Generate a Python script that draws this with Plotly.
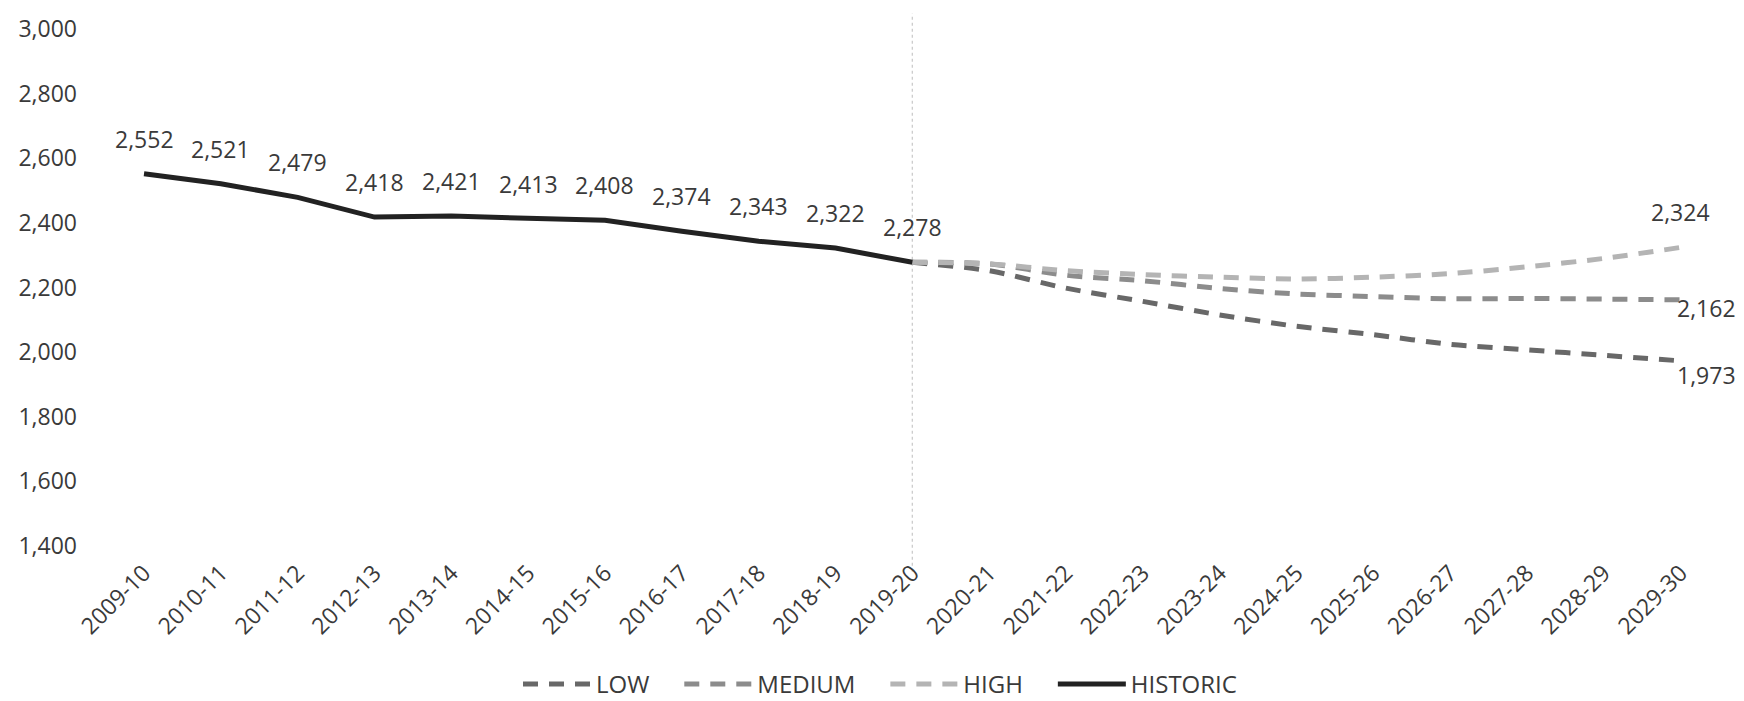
import plotly.graph_objects as go

categories = ["2009-10", "2010-11", "2011-12", "2012-13", "2013-14", "2014-15",
              "2015-16", "2016-17", "2017-18", "2018-19", "2019-20", "2020-21",
              "2021-22", "2022-23", "2023-24", "2024-25", "2025-26", "2026-27",
              "2027-28", "2028-29", "2029-30"]

historic_x = categories[:11]
historic = [2552, 2521, 2479, 2418, 2421, 2413, 2408, 2374, 2343, 2322, 2278]

proj_x = categories[10:]
low = [2278, 2252, 2198, 2157, 2115, 2080, 2054, 2024, 2007, 1990, 1973]
medium = [2278, 2273, 2238, 2221, 2197, 2180, 2172, 2165, 2166, 2164, 2162]
high = [2278, 2273, 2252, 2240, 2232, 2226, 2232, 2243, 2264, 2290, 2324]

y_ticks = [1400, 1600, 1800, 2000, 2200, 2400, 2600, 2800, 3000]

FONT = "Open Sans"
TXT = "#3a3a3a"
SP = "\u00a0" * 4

fig = go.Figure()
dash = "15px,11px"
fig.add_trace(go.Scatter(x=proj_x, y=low, name="LOW" + SP, mode="lines",
                         line=dict(color="#686868", width=5, dash=dash, shape="spline", smoothing=0.8)))
fig.add_trace(go.Scatter(x=proj_x, y=medium, name="MEDIUM" + SP, mode="lines",
                         line=dict(color="#8c8c8c", width=5, dash=dash, shape="spline", smoothing=0.8)))
fig.add_trace(go.Scatter(x=proj_x, y=high, name="HIGH" + SP, mode="lines",
                         line=dict(color="#b4b4b4", width=5, dash=dash, shape="spline", smoothing=0.8)))
fig.add_trace(go.Scatter(x=historic_x, y=historic, name="HISTORIC", mode="lines",
                         line=dict(color="#222222", width=5)))

LBL = dict(family=FONT, size=23, color=TXT)
annotations = []
for c, v in zip(historic_x, historic):
    annotations.append(dict(x=c, y=v, text=f"{v:,}", showarrow=False, yshift=35, font=LBL))
annotations.append(dict(x=proj_x[-1], y=high[-1], text=f"{high[-1]:,}", showarrow=False,
                        yshift=35, font=LBL))
annotations.append(dict(x=proj_x[-1], y=medium[-1], text=f"{medium[-1]:,}", showarrow=False,
                        xanchor="left", xshift=-6, yshift=-8, font=LBL))
annotations.append(dict(x=proj_x[-1], y=low[-1], text=f"{low[-1]:,}", showarrow=False,
                        xanchor="left", xshift=-6, yshift=-14, font=LBL))

fig.update_layout(
    width=1744, height=701,
    margin=dict(l=78, r=33, t=21, b=163),
    paper_bgcolor="white", plot_bgcolor="white",
    font=dict(family=FONT, size=22, color=TXT),
    showlegend=True,
    legend=dict(orientation="h", xref="container", x=0.5, xanchor="center",
                yref="container", y=0.035, yanchor="middle",
                font=dict(family=FONT, size=24, color=TXT),
                itemwidth=68, traceorder="normal"),
    annotations=annotations,
    shapes=[dict(type="line", xref="x", yref="paper", x0="2019-20", x1="2019-20",
                 y0=-0.05, y1=1.03, line=dict(color="#c8c8c8", width=1.2, dash="dot"),
                 layer="below")],
)
fig.update_xaxes(type="category", categoryorder="array", categoryarray=categories,
                 range=[-0.755, 20.5], tickangle=-45, showgrid=False, zeroline=False,
                 showline=False, ticks="", automargin=False, ticklabelstandoff=8,
                 tickfont=dict(family=FONT, size=23, color=TXT))
fig.update_yaxes(range=[1400, 3000], tickvals=y_ticks, tickformat=",", showgrid=False,
                 zeroline=False, showline=False, ticks="", ticklabelstandoff=8,
                 automargin=False, tickfont=dict(family=FONT, size=23, color=TXT))

fig.write_html("out.html")
